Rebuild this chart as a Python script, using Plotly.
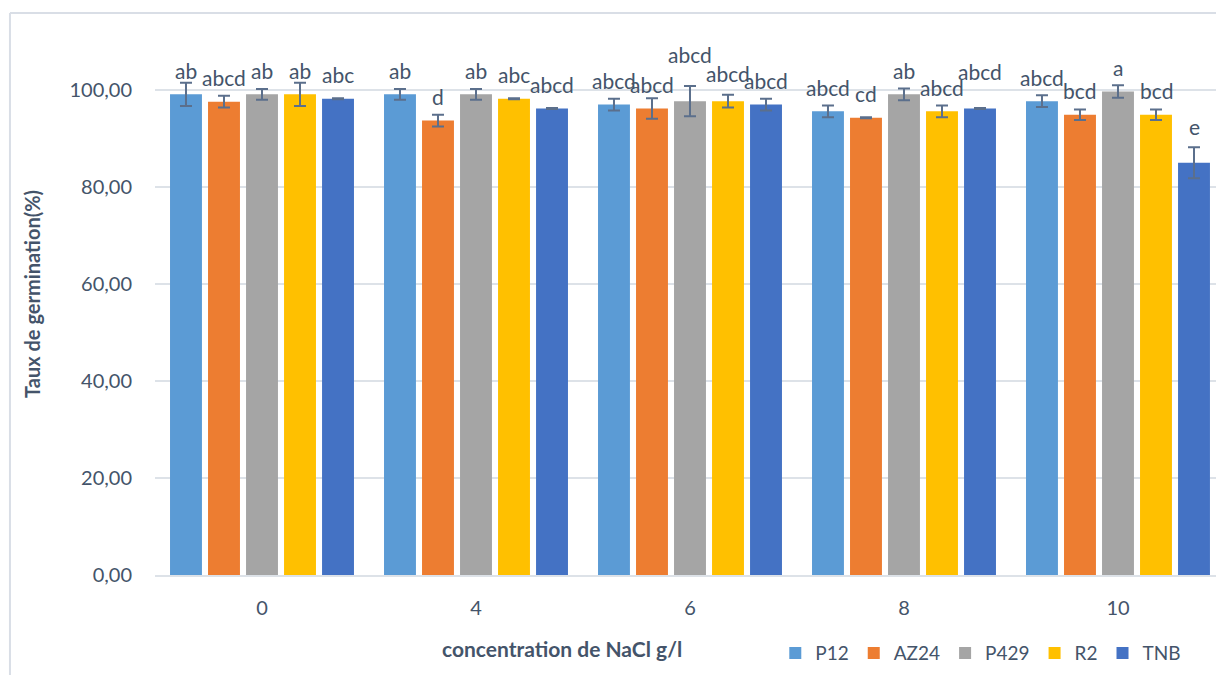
import plotly.graph_objects as go

# NaCl concentration (g/l) on the x axis
concentrations = ["0", "4", "6", "8", "10"]

# Mean germination rate (%) per variety
p12 = [99.0, 99.0, 96.9, 95.5, 97.6]
az24 = [97.5, 93.6, 96.1, 94.2, 94.8]
p429 = [99.0, 99.0, 97.6, 99.0, 99.6]
r2 = [99.0, 98.1, 97.6, 95.5, 94.8]
tnb = [98.1, 96.1, 96.9, 96.1, 84.9]

# Standard errors
p12_err = [2.4, 1.1, 1.2, 1.2, 1.2]
az24_err = [1.2, 1.2, 2.1, 0.1, 1.1]
p429_err = [1.1, 1.1, 3.1, 1.2, 1.3]
r2_err = [2.4, 0.1, 1.3, 1.2, 1.1]
tnb_err = [0.1, 0.1, 1.2, 0.1, 3.2]

# Significance letters
p12_grp = ["ab", "ab", "abcd", "abcd", "abcd"]
az24_grp = ["abcd", "d", "abcd", "cd", "bcd"]
p429_grp = ["ab", "ab", "abcd", "ab", "a"]
r2_grp = ["ab", "abc", "abcd", "abcd", "bcd"]
tnb_grp = ["abc", "abcd", "abcd", "abcd", "e"]

y_ticks = [0, 20, 40, 60, 80, 100]

series = [
    ("P12", p12, p12_err, p12_grp, "#5B9BD5"),
    ("AZ24", az24, az24_err, az24_grp, "#ED7D31"),
    ("P429", p429, p429_err, p429_grp, "#A5A5A5"),
    ("R2", r2, r2_err, r2_grp, "#FFC000"),
    ("TNB", tnb, tnb_err, tnb_grp, "#4472C4"),
]

TEXT = "#44546A"
GRID = "#DDE2E8"
FONT = "Lato"
BARGAP = 0.112

# extra lift (px) for letters that were moved clear of error bars
label_lift = {("P429", 2): 23, ("R2", 2): 4, ("TNB", 3): 13, ("TNB", 4): 12}

fig = go.Figure()
annotations = []
n = len(series)
slot = (1 - BARGAP) / n
for i, (name, vals, errs, grps, color) in enumerate(series):
    fig.add_trace(go.Bar(
        name=name, x=concentrations, y=vals,
        marker=dict(color=color, line=dict(width=0)),
        error_y=dict(type="data", array=errs, visible=True,
                     color="#5B6F8C", thickness=2, width=6),
    ))
    for j, (v, g) in enumerate(zip(vals, grps)):
        annotations.append(dict(
            x=j + (i - (n - 1) / 2) * slot, y=v, xref="x", yref="y",
            text=g, showarrow=False, yanchor="middle",
            yshift=24 + label_lift.get((name, j), 0),
            font=dict(family=FONT, size=21, color=TEXT),
        ))

# axis titles
annotations.append(dict(
    x=-0.1159, y=0.5, xref="paper", yref="paper", text="<b>Taux de germination(%)</b>",
    textangle=-90, showarrow=False, xanchor="center", yanchor="middle",
    font=dict(family=FONT, size=20, color=TEXT),
))
annotations.append(dict(
    x=0.3836, y=-0.13, xref="paper", yref="paper", text="<b>concentration de NaCl g/l</b>",
    showarrow=False, xanchor="center", yanchor="middle",
    font=dict(family=FONT, size=21, color=TEXT),
))

fig.update_layout(
    width=1216, height=675,
    margin=dict(l=155, r=0, t=13, b=100),
    paper_bgcolor="white", plot_bgcolor="white",
    barmode="group", bargap=BARGAP, bargroupgap=0.16,
    separators=", ",
    font=dict(family=FONT, color=TEXT),
    showlegend=True,
    legend=dict(orientation="h", x=0.972, xanchor="right", y=-0.139, yanchor="middle",
                font=dict(family=FONT, size=19, color=TEXT), itemwidth=30,
                traceorder="normal"),
    annotations=annotations,
    shapes=[
        dict(type="line", xref="paper", yref="paper", x0=-0.1367, x1=-0.1367, y0=-0.2, y1=1,
             line=dict(color="#D9DEE6", width=2)),
        dict(type="line", xref="paper", yref="paper", x0=-0.1367, x1=1.0, y0=1, y1=1,
             line=dict(color="#D9DEE6", width=2)),
    ],
)

fig.update_xaxes(
    type="category", range=[-0.5, 4.458],
    showline=True, linecolor=GRID, linewidth=1.5,
    ticks="outside", ticklen=14, tickcolor="rgba(0,0,0,0)",
    tickfont=dict(family=FONT, size=20, color=TEXT),
    showgrid=False,
)
fig.update_yaxes(
    range=[0, 115.76], tickvals=y_ticks, tickformat=".2f",
    showgrid=True, gridcolor=GRID, gridwidth=1.5,
    zeroline=False, showline=False,
    ticks="outside", ticklen=18, tickcolor="rgba(0,0,0,0)",
    tickfont=dict(family=FONT, size=20, color=TEXT),
)

fig.write_html("out.html")
